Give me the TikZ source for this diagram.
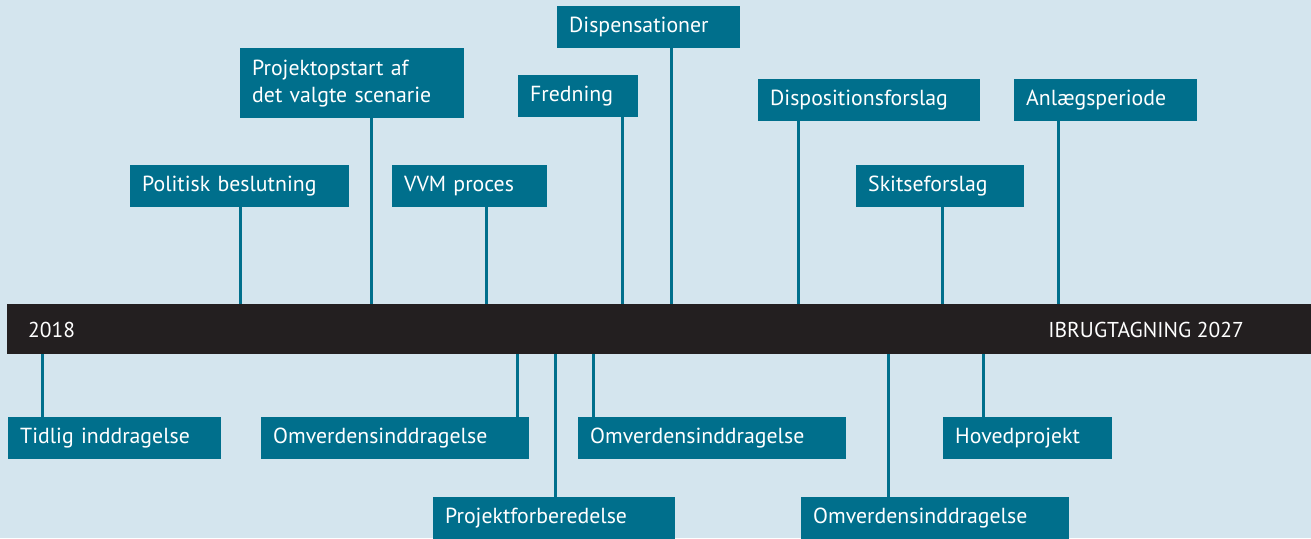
\documentclass[tikz,border=0pt]{standalone}
\usepackage{fontspec}
\setmainfont{PT Sans}
\definecolor{bg}{HTML}{D4E5EE}
\definecolor{teal}{HTML}{006F8C}
\definecolor{barc}{HTML}{231F20}
\begin{document}
\begin{tikzpicture}[x=1pt,y=-1pt,
  box/.style={fill=teal, text=white, anchor=north west, inner xsep=12pt, inner ysep=0pt,
    align=left, font=\fontsize{21.8}{27}\selectfont, minimum height=42pt},
  conn/.style={draw=teal, line width=3pt},
  bartext/.style={text=white, font=\fontsize{21.5}{26}\selectfont, inner sep=0pt}]
\fill[bg] (0,0) rectangle (1311,538);
\useasboundingbox (0,0) rectangle (1311,538);
% bar
\node[fill=barc, anchor=north west, minimum width=1304pt, minimum height=50pt, inner sep=0pt] (bar) at (7,304) {};
\node[bartext, anchor=west] (y1) at (28,330) {2018};
\node[bartext, anchor=east] (y2) at (1244,330) {IBRUGTAGNING 2027};
% top boxes
\node[box, text width=159pt] (disp) at (557,6) {Dispensationer};
\node[box, text width=200pt, minimum height=70pt] (proj) at (240,48) {Projektopstart af\\det valgte scenarie};
\node[box, text width=96pt] (fred) at (518,75) {Fredning};
\node[box, text width=198pt] (dispf) at (758,79) {Dispositionsforslag};
\node[box, text width=159pt] (anl) at (1014,79) {Anlægsperiode};
\node[box, text width=195pt] (pol) at (130,165) {Politisk beslutning};
\node[box, text width=131pt] (vvm) at (392,165) {VVM proces};
\node[box, text width=144pt] (skit) at (856,165) {Skitseforslag};
% bottom boxes
\node[box, text width=189pt] (tid) at (8,417) {Tidlig inddragelse};
\node[box, text width=244pt] (omv1) at (261,417) {Omverdensinddragelse};
\node[box, text width=244pt] (omv2) at (578,417) {Omverdensinddragelse};
\node[box, text width=145pt] (hov) at (943,417) {Hovedprojekt};
\node[box, text width=218pt] (pfb) at (433,497) {Projektforberedelse};
\node[box, text width=244pt] (omv3) at (801,497) {Omverdensinddragelse};
% connectors top
\draw[conn] (240,0 |- pol.south) -- (240,0 |- bar.north);
\draw[conn] (371,0 |- proj.south) -- (371,0 |- bar.north);
\draw[conn] (486,0 |- vvm.south) -- (486,0 |- bar.north);
\draw[conn] (622,0 |- fred.south) -- (622,0 |- bar.north);
\draw[conn] (671,0 |- disp.south) -- (671,0 |- bar.north);
\draw[conn] (798,0 |- dispf.south) -- (798,0 |- bar.north);
\draw[conn] (942,0 |- skit.south) -- (942,0 |- bar.north);
\draw[conn] (1058,0 |- anl.south) -- (1058,0 |- bar.north);
% connectors bottom
\draw[conn] (42,0 |- bar.south) -- (42,0 |- tid.north);
\draw[conn] (517,0 |- bar.south) -- (517,0 |- omv1.north);
\draw[conn] (555,0 |- bar.south) -- (555,0 |- pfb.north);
\draw[conn] (593,0 |- bar.south) -- (593,0 |- omv2.north);
\draw[conn] (888,0 |- bar.south) -- (888,0 |- omv3.north);
\draw[conn] (983,0 |- bar.south) -- (983,0 |- hov.north);
\end{tikzpicture}
\end{document}
